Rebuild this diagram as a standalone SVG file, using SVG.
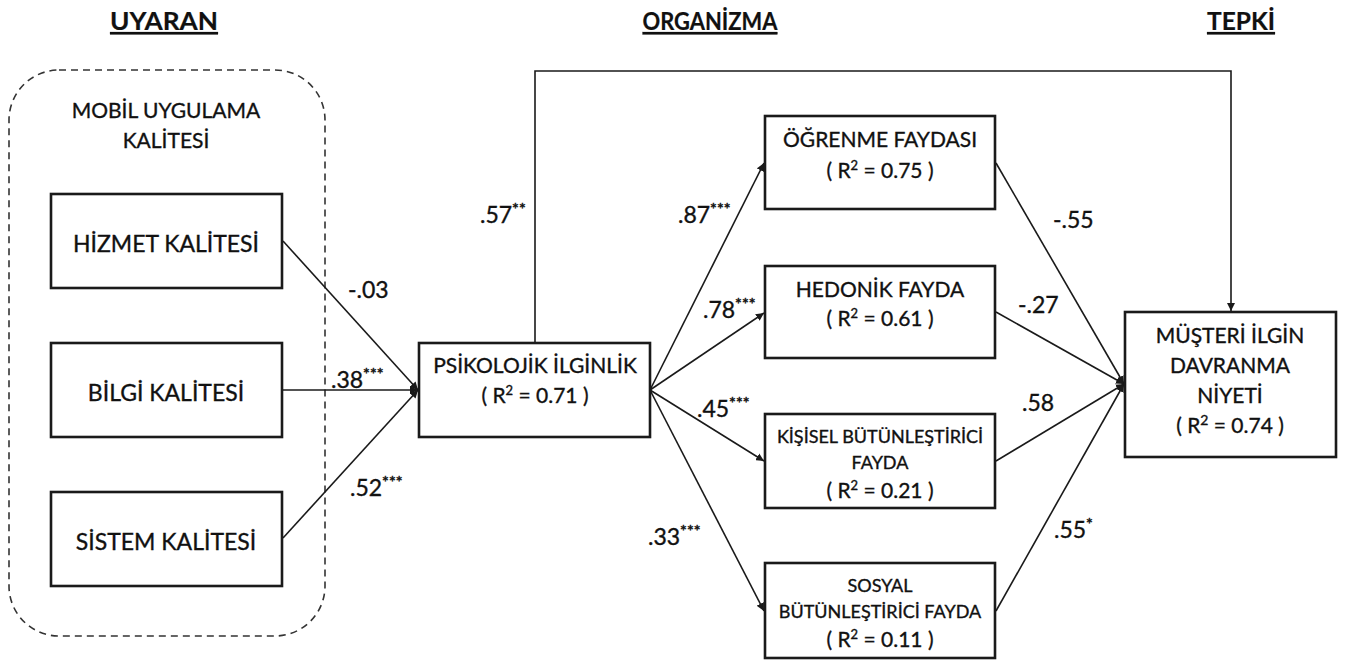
<svg xmlns="http://www.w3.org/2000/svg" width="1347" height="662" viewBox="0 0 1347 662">
<style>
text{font-family:Lato,"Open Sans","Liberation Sans",sans-serif;fill:#111;stroke:#111;stroke-width:0.35;}
.hdr{font-size:25px;font-weight:bold;text-decoration:underline;text-anchor:middle;stroke-width:0.2;}
.box{fill:#fff;stroke:#1a1a1a;stroke-width:2.6;}
.big{font-size:23px;text-anchor:middle;}
.mid{font-size:18px;text-anchor:middle;}
.m21{font-size:21px;text-anchor:middle;}
.lbl{font-size:23px;}
.sup{font-size:16px;font-weight:bold;}
.con{fill:none;stroke:#1a1a1a;stroke-width:1.6;}
</style>
<defs>
<marker id="ah" viewBox="0 0 10 10" refX="10" refY="5" markerWidth="8" markerHeight="8" orient="auto" markerUnits="userSpaceOnUse">
<path d="M0,0 L10,5 L0,10 z" fill="#1a1a1a"/>
</marker>
</defs>
<rect width="1347" height="662" fill="#fff" stroke="none"/>
<g id="headers">
<text class="hdr" x="164" y="30" textLength="108" lengthAdjust="spacingAndGlyphs">UYARAN</text>
<text class="hdr" x="710" y="30" textLength="135" lengthAdjust="spacingAndGlyphs">ORGANİZMA</text>
<text class="hdr" x="1241" y="30" textLength="68" lengthAdjust="spacingAndGlyphs">TEPKİ</text>
</g>
<g id="group-mobil">
<rect x="9" y="70" width="316" height="566" rx="50" ry="50" fill="none" stroke="#333" stroke-width="1.6" stroke-dasharray="7,5"/>
<text class="m21" x="166" y="118">MOBİL UYGULAMA</text>
<text class="m21" x="166" y="148">KALİTESİ</text>
</g>
<g id="connectors">
<line class="con" x1="283" y1="241" x2="418" y2="390" marker-end="url(#ah)"/>
<line class="con" x1="283" y1="390" x2="418" y2="390" marker-end="url(#ah)"/>
<line class="con" x1="283" y1="538" x2="418" y2="390" marker-end="url(#ah)"/>
<polyline class="con" points="535,343 535,71 1231,71 1231,311" marker-end="url(#ah)"/>
<line class="con" x1="650" y1="390" x2="764" y2="163" marker-end="url(#ah)"/>
<line class="con" x1="650" y1="390" x2="764" y2="313" marker-end="url(#ah)"/>
<line class="con" x1="650" y1="390" x2="764" y2="461" marker-end="url(#ah)"/>
<line class="con" x1="650" y1="390" x2="764" y2="611" marker-end="url(#ah)"/>
<line class="con" x1="996" y1="163" x2="1124" y2="384" marker-end="url(#ah)"/>
<line class="con" x1="996" y1="312" x2="1124" y2="384" marker-end="url(#ah)"/>
<line class="con" x1="996" y1="461" x2="1124" y2="384" marker-end="url(#ah)"/>
<line class="con" x1="996" y1="611" x2="1124" y2="384" marker-end="url(#ah)"/>
</g>
<g id="labels">
<text class="lbl" x="348" y="298">-.03</text>
<text class="lbl" x="331" y="388">.38<tspan class="sup" dy="-9">***</tspan></text>
<text class="lbl" x="350" y="496">.52<tspan class="sup" dy="-9">***</tspan></text>
<text class="lbl" x="480" y="223">.57<tspan class="sup" dy="-9">**</tspan></text>
<text class="lbl" x="678" y="223">.87<tspan class="sup" dy="-9">***</tspan></text>
<text class="lbl" x="703" y="318">.78<tspan class="sup" dy="-9">***</tspan></text>
<text class="lbl" x="697" y="417">.45<tspan class="sup" dy="-9">***</tspan></text>
<text class="lbl" x="648" y="545">.33<tspan class="sup" dy="-9">***</tspan></text>
<text class="lbl" x="1053" y="228">-.55</text>
<text class="lbl" x="1018" y="313">-.27</text>
<text class="lbl" x="1022" y="411">.58</text>
<text class="lbl" x="1054" y="538">.55<tspan class="sup" dy="-9">*</tspan></text>
</g>
<g id="node-hizmet">
<rect class="box" x="51" y="194" width="231" height="94"/>
<text class="big" x="166" y="252">HİZMET KALİTESİ</text>
</g>
<g id="node-bilgi">
<rect class="box" x="51" y="343" width="231" height="94"/>
<text class="big" x="166" y="401">BİLGİ KALİTESİ</text>
</g>
<g id="node-sistem">
<rect class="box" x="51" y="492" width="231" height="94"/>
<text class="big" x="166" y="550">SİSTEM KALİTESİ</text>
</g>
<g id="node-psikolojik">
<rect class="box" x="419" y="343" width="231" height="94"/>
<text class="m21" x="535" y="373">PSİKOLOJİK İLGİNLİK</text>
<text class="m21" x="535" y="403">( R<tspan font-size="13" dy="-8">2</tspan><tspan dy="8"> = 0.71 )</tspan></text>
</g>
<g id="node-ogrenme">
<rect class="box" x="765" y="116" width="230" height="93"/>
<text class="m21" x="880" y="147">ÖĞRENME FAYDASI</text>
<text class="m21" x="880" y="178">( R<tspan font-size="13" dy="-8">2</tspan><tspan dy="8"> = 0.75 )</tspan></text>
</g>
<g id="node-hedonik">
<rect class="box" x="765" y="266" width="230" height="92"/>
<text class="m21" x="880" y="297">HEDONİK FAYDA</text>
<text class="m21" x="880" y="326">( R<tspan font-size="13" dy="-8">2</tspan><tspan dy="8"> = 0.61 )</tspan></text>
</g>
<g id="node-kisisel">
<rect class="box" x="765" y="414" width="230" height="94"/>
<text class="mid" x="880" y="443">KİŞİSEL BÜTÜNLEŞTİRİCİ</text>
<text class="mid" x="880" y="469">FAYDA</text>
<text class="m21" x="880" y="498">( R<tspan font-size="13" dy="-8">2</tspan><tspan dy="8"> = 0.21 )</tspan></text>
</g>
<g id="node-sosyal">
<rect class="box" x="765" y="563" width="230" height="95"/>
<text class="mid" x="880" y="592">SOSYAL</text>
<text class="mid" x="880" y="618">BÜTÜNLEŞTİRİCİ FAYDA</text>
<text class="m21" x="880" y="647">( R<tspan font-size="13" dy="-8">2</tspan><tspan dy="8"> = 0.11 )</tspan></text>
</g>
<g id="node-musteri">
<rect class="box" x="1125" y="312" width="211" height="145"/>
<text class="m21" x="1230" y="343" font-size="23">MÜŞTERİ İLGİN</text>
<text class="m21" x="1230" y="373" font-size="23">DAVRANMA</text>
<text class="m21" x="1230" y="403" font-size="23">NİYETİ</text>
<text class="m21" x="1230" y="433" font-size="23">( R<tspan font-size="14" dy="-8">2</tspan><tspan dy="8"> = 0.74 )</tspan></text>
</g>
</svg>
